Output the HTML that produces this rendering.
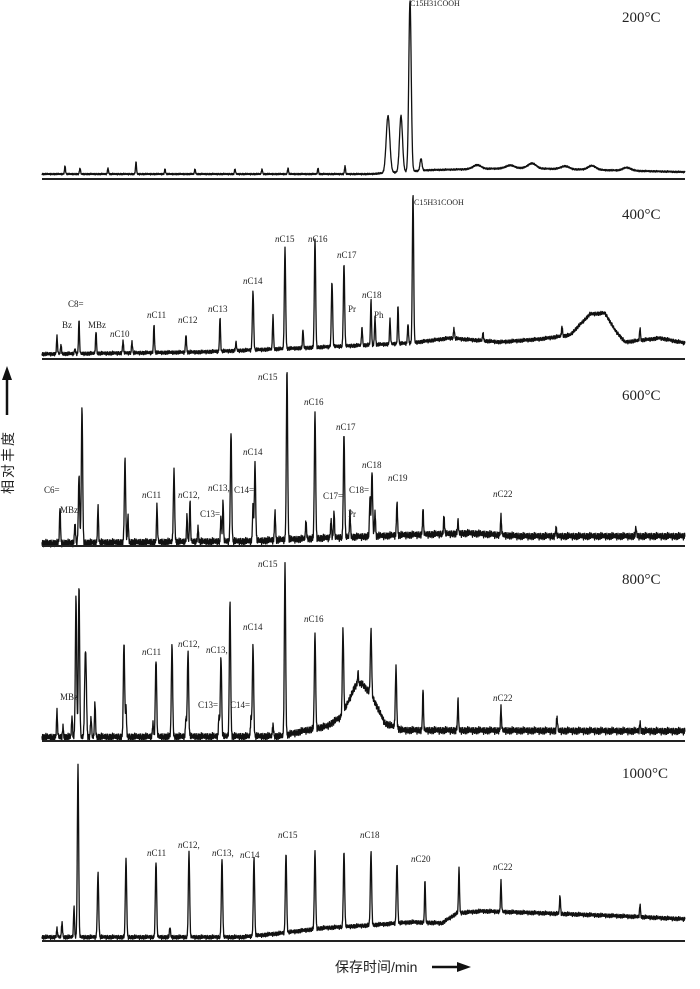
<!DOCTYPE html>
<html><head><meta charset="utf-8">
<style>
html,body{margin:0;padding:0;background:#fff;}
svg{display:block;}
text{font-family:"Liberation Serif","Noto Serif CJK SC",serif;fill:#222;}
.lb{font-size:9px;}
.tp{font-size:15px;}
</style></head>
<body>
<svg id="chart" width="700" height="989" viewBox="0 0 700 989" xmlns="http://www.w3.org/2000/svg">
<g id="panels"></g>
<g>
  <line x1="7" y1="415" x2="7" y2="378" stroke="#111" stroke-width="2.5"/>
  <polygon points="7,366 2,380 12,380" fill="#111"/>
  <text x="13" y="494" transform="rotate(-90 13 494)" style="font-size:14px;letter-spacing:2px;font-family:'Noto Sans CJK SC',sans-serif" fill="#333">相对丰度</text>
</g>
<g>
  <text x="335" y="972" style="font-size:14px;font-family:'Liberation Sans','Noto Sans CJK SC',sans-serif">保存时间/min</text>
  <line x1="432" y1="967" x2="458" y2="967" stroke="#111" stroke-width="2.5"/>
  <polygon points="471,967 457,962 457,972" fill="#111"/>
</g>
</svg>
<script>
// retention time axis: t (min-equivalent) 0..64.3 mapped to x 42..685
const panelTemps = ["200°C","400°C","600°C","800°C","1000°C"];
const axisYs = [179,359,546,741,941];
const tempLabelY = [22,219,400,584,778];
const noiseAmp = [0.8,1.8,3.4,3.4,2.0];
// baseline knots [t, level]
const base200 = [[0,5],[32.8,5],[38.8,9],[47.8,11],[64.3,7]];
const base400 = [[0,5],[15.8,7],[25.8,11],[36.8,16],[40.8,21],[45.8,17],[49.8,20],[52.8,24],[54.8,45],[56.3,46],[57.3,29],[58.3,17],[61.8,21],[64.3,16]];
const base600 = [[0,3],[20.8,5],[27.8,8],[35.8,11],[42.8,13],[47.8,10],[64.3,10]];
const base800 = [[0,4],[24,5],[26,10],[28.5,15],[30,25],[31.3,55],[32.0,58],[33.0,45],[34.3,18],[36,11],[64.3,10]];
const base1000 = [[0,4],[20,4],[24,8],[28,13],[33,16],[37,19],[40,18],[41.5,28],[44,30],[50,28],[58,25],[64.3,22]];
// peaks: retention times and heights
const t200 = [2.3,3.8,6.6,9.4,12.3,15.3,19.3,22.0,24.6,27.6,30.3,34.6,35.9,36.8,37.9,43.5,46.8,49.0,52.3,55.0,58.5];
const h200 = [8,6,6,12,5,5,5,5,6,6,8,57,56,171,12,4,3,5,3,4,3];
const t400 = [1.5,1.9,3.3,3.7,5.4,8.1,9.0,11.2,14.4,17.8,19.4,21.1,23.1,24.3,26.1,27.3,29.0,30.2,32.0,32.9,33.3,34.8,35.6,36.6,37.1,41.2,44.1,52.0,59.8];
const h400 = [17,9,5,33,22,12,11,28,18,34,8,59,34,100,18,108,65,82,18,45,28,24,38,20,150,10,8,10,12];
const t600 = [1.8,3.3,3.7,4.0,5.6,8.3,8.6,11.5,13.2,14.5,14.8,15.6,17.9,18.1,18.9,21.1,21.3,23.3,24.5,26.4,27.3,28.9,29.2,30.2,30.8,32.8,33.0,33.3,35.5,38.1,40.2,41.6,45.9,51.4,59.4];
const h600 = [36,21,66,136,36,82,26,36,71,26,40,14,25,40,110,37,77,30,170,18,126,18,25,103,25,40,64,25,35,25,18,12,18,8,8];
const t800 = [1.5,2.1,3.0,3.4,3.7,4.3,4.4,4.9,5.3,8.2,8.4,11.1,11.4,13.0,14.4,14.6,17.7,17.9,18.8,20.9,21.1,23.1,24.3,27.3,30.1,31.6,32.9,35.4,38.1,41.6,45.9,51.5,59.8];
const h800 = [25,10,20,140,150,55,60,20,35,95,30,15,78,92,20,86,20,80,135,20,92,12,170,95,85,12,65,60,40,30,22,14,8];
const t1000 = [1.5,2.0,3.2,3.6,5.6,8.4,11.4,12.8,14.7,18.0,21.2,24.4,27.3,30.2,32.9,35.5,38.3,41.7,45.9,51.8,59.8];
const h1000 = [8,15,30,172,64,78,76,10,85,78,78,80,78,75,73,60,42,45,30,18,12];
// peak widths (sigma, t units) only for the 200°C broad peaks
const w200 = [0.05,0.05,0.05,0.05,0.05,0.05,0.05,0.05,0.05,0.05,0.05,0.18,0.15,0.12,0.1,0.4,0.4,0.4,0.4,0.4,0.4];
const noisePattern = [0.2,-0.6,0.9,-0.3,0.5,-1,0.1,0.7,-0.4,0.3,-0.8,0.6,-0.1,0.9,-0.5,0.2,-0.9,0.4,0.8,-0.2,-0.7,0.5,0.1,-0.4,0.9,-0.6,0.3,-0.2,0.6,-0.9,0.4,0.0,-0.5,0.7,-0.3,0.2,-0.8];
const bases=[base200,base400,base600,base800,base1000];
const peakT=[t200,t400,t600,t800,t1000];
const peakH=[h200,h400,h600,h800,h1000];
// labels: [text, x, y, italicN]
const labels = [
 [["C15H31COOH",410,6,0]],
 [["C15H31COOH",414,205,0],["C8=",68,307,0],["Bz",62,328,0],["MBz",88,328,0],["C10",110,337,1],["C11",147,318,1],["C12",178,323,1],["C13",208,312,1],["C14",243,284,1],["C15",275,242,1],["C16",308,242,1],["C17",337,258,1],["Pr",348,312,0],["C18",362,298,1],["Ph",374,318,0]],
 [["C15",258,380,1],["C16",304,405,1],["C17",336,430,1],["C14",243,455,1],["C6=",44,493,0],["MBz",60,513,0],["C11",142,498,1],["C12,",178,498,1],["C13,",208,491,1],["C14=",234,493,0],["C13=",200,517,0],["C17=",323,499,0],["C18=",349,493,0],["Pr",348,517,0],["C18",362,468,1],["C19",388,481,1],["C22",493,497,1]],
 [["C15",258,567,1],["C16",304,622,1],["C14",243,630,1],["C11",142,655,1],["C12,",178,647,1],["C13,",206,653,1],["MBz",60,700,0],["C13=",198,708,0],["C14=",230,708,0],["C22",493,701,1]],
 [["C11",147,856,1],["C12,",178,848,1],["C13,",212,856,1],["C14",240,858,1],["C15",278,838,1],["C18",360,838,1],["C20",411,862,1],["C22",493,870,1]]
];
const X0=42, X1=685, TMAX=64.3;
function xScale(t){return X0+(t/TMAX)*(X1-X0);}
function yScale(p,v){return axisYs[p]-v;}
function baseAt(kn,t){
  for(let i=1;i<kn.length;i++){
    if(t<=kn[i][0]){const a=kn[i-1],b=kn[i];const f=(t-a[0])/(b[0]-a[0]||1);return a[1]+f*(b[1]-a[1]);}
  }
  return kn[kn.length-1][1];
}
const NS="http://www.w3.org/2000/svg";
const root=document.getElementById('panels');
for(let p=0;p<5;p++){
  const g=document.createElementNS(NS,'g');
  
  
  root.appendChild(g);
  const pts=[];let i=0;
  for(let t=0;t<=TMAX;t+=0.03,i++){
    let v=baseAt(bases[p],t);
    const pt=peakT[p],ph=peakH[p];
    for(let k=0;k<pt.length;k++){
      const s=p===0?w200[k]:(ph[k]>50?0.065:0.05);
      const d=(t-pt[k])/s;
      if(Math.abs(d)<6)v+=ph[k]*Math.exp(-0.5*d*d);
    }
    v+=noisePattern[i%noisePattern.length]*noiseAmp[p]*(1+0.4*noisePattern[(i*7)%noisePattern.length]);
    pts.push(xScale(t).toFixed(1)+','+yScale(p,v).toFixed(1));
  }
  const pl=document.createElementNS(NS,'polyline');
  pl.setAttribute('points',pts.join(' '));
  pl.setAttribute('fill','none');pl.setAttribute('stroke','#111');pl.setAttribute('stroke-width','1.3');
  pl.setAttribute('stroke-linejoin','round');
  
  
  g.appendChild(pl);
  const ax=document.createElementNS(NS,'line');
  ax.setAttribute('x1',X0);ax.setAttribute('x2',X1);
  ax.setAttribute('y1',axisYs[p]);ax.setAttribute('y2',axisYs[p]);
  ax.setAttribute('stroke','#222');ax.setAttribute('stroke-width','2');
  
  
  g.appendChild(ax);
  const tt=document.createElementNS(NS,'text');
  tt.setAttribute('x',622);tt.setAttribute('y',tempLabelY[p]);tt.setAttribute('class','tp');
  tt.textContent=panelTemps[p];
  
  
  g.appendChild(tt);
  for(const L of labels[p]){
    const tx=document.createElementNS(NS,'text');
    tx.setAttribute('x',L[1]);tx.setAttribute('y',L[2]);tx.setAttribute('class','lb');
    if(L[3]){
      const n=document.createElementNS(NS,'tspan');n.setAttribute('font-style','italic');n.textContent='n';tx.appendChild(n);
      tx.appendChild(document.createTextNode(L[0]));
    } else tx.textContent=L[0];
    if(L[0]==='C15H31COOH')tx.setAttribute('style','font-size:8px');
    
    
    g.appendChild(tx);
  }
}
</script>
</body></html>
